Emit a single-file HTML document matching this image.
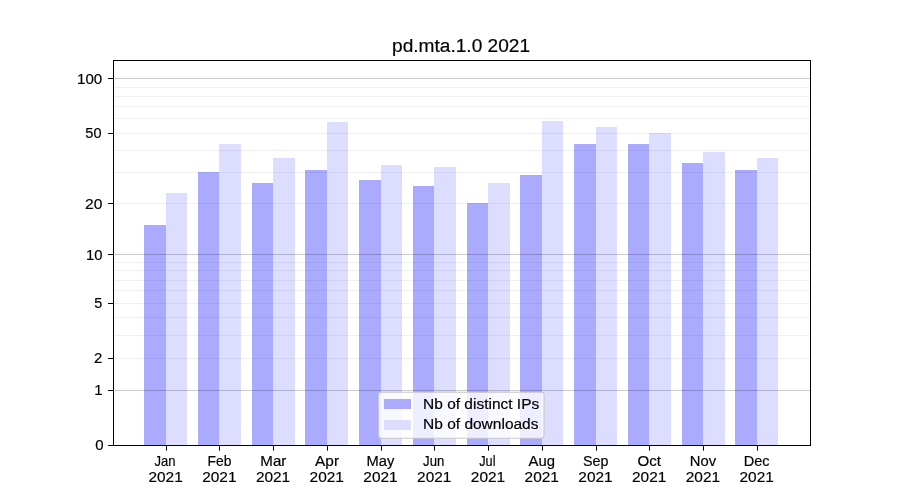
<!DOCTYPE html><html><head><meta charset="utf-8"><style>html,body{margin:0;padding:0;background:#fff;width:900px;height:500px;overflow:hidden}svg{display:block;will-change:transform}text{font-family:"Liberation Sans",sans-serif;fill:#000;stroke:#000;stroke-width:0.18px}</style></head><body>
<svg width="900" height="500" viewBox="0 0 900 500">
<rect x="0" y="0" width="900" height="500" fill="#fff"/>
<g shape-rendering="crispEdges">
<rect x="144" y="225" width="22" height="220" fill="#aaaaff"/>
<rect x="166" y="193" width="21" height="252" fill="#ddddff"/>
<rect x="198" y="172" width="21" height="273" fill="#aaaaff"/>
<rect x="219" y="144" width="22" height="301" fill="#ddddff"/>
<rect x="252" y="183" width="21" height="262" fill="#aaaaff"/>
<rect x="273" y="158" width="22" height="287" fill="#ddddff"/>
<rect x="305" y="170" width="22" height="275" fill="#aaaaff"/>
<rect x="327" y="122" width="21" height="323" fill="#ddddff"/>
<rect x="359" y="180" width="22" height="265" fill="#aaaaff"/>
<rect x="381" y="165" width="21" height="280" fill="#ddddff"/>
<rect x="413" y="186" width="21" height="259" fill="#aaaaff"/>
<rect x="434" y="167" width="22" height="278" fill="#ddddff"/>
<rect x="467" y="203" width="21" height="242" fill="#aaaaff"/>
<rect x="488" y="183" width="22" height="262" fill="#ddddff"/>
<rect x="520" y="175" width="22" height="270" fill="#aaaaff"/>
<rect x="542" y="121" width="21" height="324" fill="#ddddff"/>
<rect x="574" y="144" width="22" height="301" fill="#aaaaff"/>
<rect x="596" y="127" width="21" height="318" fill="#ddddff"/>
<rect x="628" y="144" width="21" height="301" fill="#aaaaff"/>
<rect x="649" y="133" width="22" height="312" fill="#ddddff"/>
<rect x="682" y="163" width="21" height="282" fill="#aaaaff"/>
<rect x="703" y="152" width="22" height="293" fill="#ddddff"/>
<rect x="735" y="170" width="22" height="275" fill="#aaaaff"/>
<rect x="757" y="158" width="21" height="287" fill="#ddddff"/>
</g>
<rect x="113" y="358" width="697" height="1" fill="#000" fill-opacity="0.06"/>
<rect x="113" y="335" width="697" height="1" fill="#000" fill-opacity="0.06"/>
<rect x="113" y="317" width="697" height="1" fill="#000" fill-opacity="0.06"/>
<rect x="113" y="303" width="697" height="1" fill="#000" fill-opacity="0.06"/>
<rect x="113" y="290" width="697" height="1" fill="#000" fill-opacity="0.06"/>
<rect x="113" y="280" width="697" height="1" fill="#000" fill-opacity="0.06"/>
<rect x="113" y="270" width="697" height="1" fill="#000" fill-opacity="0.06"/>
<rect x="113" y="262" width="697" height="1" fill="#000" fill-opacity="0.06"/>
<rect x="113" y="203" width="697" height="1" fill="#000" fill-opacity="0.06"/>
<rect x="113" y="172" width="697" height="1" fill="#000" fill-opacity="0.06"/>
<rect x="113" y="150" width="697" height="1" fill="#000" fill-opacity="0.06"/>
<rect x="113" y="133" width="697" height="1" fill="#000" fill-opacity="0.06"/>
<rect x="113" y="118" width="697" height="1" fill="#000" fill-opacity="0.06"/>
<rect x="113" y="106" width="697" height="1" fill="#000" fill-opacity="0.06"/>
<rect x="113" y="96" width="697" height="1" fill="#000" fill-opacity="0.06"/>
<rect x="113" y="87" width="697" height="1" fill="#000" fill-opacity="0.06"/>
<rect x="113" y="390" width="697" height="1" fill="#000" fill-opacity="0.2"/>
<rect x="113" y="254" width="697" height="1" fill="#000" fill-opacity="0.2"/>
<rect x="113" y="78" width="697" height="1" fill="#000" fill-opacity="0.2"/>
<rect x="113" y="60" width="698" height="1" fill="#000"/>
<rect x="113" y="445" width="698" height="1" fill="#000"/>
<rect x="113" y="60" width="1" height="386" fill="#000"/>
<rect x="810" y="60" width="1" height="386" fill="#000"/>
<rect x="108.1" y="445" width="5" height="1" fill="#000"/>
<text transform="translate(95.278,450.000) scale(1.0188,1)" font-size="14.723">0</text>
<rect x="108.1" y="390" width="5" height="1" fill="#000"/>
<text transform="translate(94.176,395.000) scale(1.0176,1)" font-size="14.723">1</text>
<rect x="108.1" y="358" width="5" height="1" fill="#000"/>
<text transform="translate(94.012,363.000) scale(1.0154,1)" font-size="14.723">2</text>
<rect x="108.1" y="303" width="5" height="1" fill="#000"/>
<text transform="translate(94.364,308.000) scale(0.9780,1)" font-size="14.723">5</text>
<rect x="108.1" y="254" width="5" height="1" fill="#000"/>
<text transform="translate(85.889,260.000) scale(1.0064,1)" font-size="14.723">10</text>
<rect x="108.1" y="203" width="5" height="1" fill="#000"/>
<text transform="translate(84.977,209.000) scale(1.0641,1)" font-size="14.723">20</text>
<rect x="108.1" y="133" width="5" height="1" fill="#000"/>
<text transform="translate(85.319,138.000) scale(0.9867,1)" font-size="14.723">50</text>
<rect x="108.1" y="78" width="5" height="1" fill="#000"/>
<text transform="translate(77.067,84.000) scale(1.0264,1)" font-size="14.723">100</text>
<rect x="166" y="446" width="1" height="4.6" fill="#000"/>
<text transform="translate(154.519,465.900) scale(0.8852,1)" font-size="14.723">Jan</text>
<text transform="translate(148.410,481.900) scale(1.0481,1)" font-size="14.723">2021</text>
<rect x="219" y="446" width="1" height="4.6" fill="#000"/>
<text transform="translate(207.501,465.900) scale(0.9410,1)" font-size="14.723">Feb</text>
<text transform="translate(202.147,481.900) scale(1.0481,1)" font-size="14.723">2021</text>
<rect x="273" y="446" width="1" height="4.6" fill="#000"/>
<text transform="translate(260.326,465.900) scale(1.0266,1)" font-size="14.723">Mar</text>
<text transform="translate(255.883,481.900) scale(1.0481,1)" font-size="14.723">2021</text>
<rect x="327" y="446" width="1" height="4.6" fill="#000"/>
<text transform="translate(315.110,465.900) scale(1.0452,1)" font-size="14.723">Apr</text>
<text transform="translate(309.620,481.900) scale(1.0481,1)" font-size="14.723">2021</text>
<rect x="381" y="446" width="1" height="4.6" fill="#000"/>
<text transform="translate(366.574,465.900) scale(1.0027,1)" font-size="14.723">May</text>
<text transform="translate(363.356,481.900) scale(1.0481,1)" font-size="14.723">2021</text>
<rect x="434" y="446" width="1" height="4.6" fill="#000"/>
<text transform="translate(423.053,465.900) scale(0.8975,1)" font-size="14.723">Jun</text>
<text transform="translate(417.093,481.900) scale(1.0481,1)" font-size="14.723">2021</text>
<rect x="488" y="446" width="1" height="4.6" fill="#000"/>
<text transform="translate(479.269,465.900) scale(0.8629,1)" font-size="14.723">Jul</text>
<text transform="translate(470.829,481.900) scale(1.0481,1)" font-size="14.723">2021</text>
<rect x="542" y="446" width="1" height="4.6" fill="#000"/>
<text transform="translate(528.511,465.900) scale(1.0100,1)" font-size="14.723">Aug</text>
<text transform="translate(524.566,481.900) scale(1.0481,1)" font-size="14.723">2021</text>
<rect x="596" y="446" width="1" height="4.6" fill="#000"/>
<text transform="translate(582.911,465.900) scale(0.9718,1)" font-size="14.723">Sep</text>
<text transform="translate(578.302,481.900) scale(1.0481,1)" font-size="14.723">2021</text>
<rect x="649" y="446" width="1" height="4.6" fill="#000"/>
<text transform="translate(637.516,465.900) scale(1.0257,1)" font-size="14.723">Oct</text>
<text transform="translate(632.039,481.900) scale(1.0481,1)" font-size="14.723">2021</text>
<rect x="703" y="446" width="1" height="4.6" fill="#000"/>
<text transform="translate(689.793,465.900) scale(1.0052,1)" font-size="14.723">Nov</text>
<text transform="translate(685.775,481.900) scale(1.0481,1)" font-size="14.723">2021</text>
<rect x="757" y="446" width="1" height="4.6" fill="#000"/>
<text transform="translate(743.663,465.900) scale(0.9905,1)" font-size="14.723">Dec</text>
<text transform="translate(739.512,481.900) scale(1.0481,1)" font-size="14.723">2021</text>
<text transform="translate(392.015,51.900) scale(1.0816,1)" font-size="17.670">pd.mta.1.0 2021</text>
<rect x="378.45" y="392.2" width="165.55" height="46.05" rx="2.8" ry="2.8" fill="#fff" fill-opacity="0.8" stroke="#c4c4c4" stroke-opacity="0.9" stroke-width="1.11"/>
<rect x="384" y="399" width="27" height="10" fill="#aaaaff" shape-rendering="crispEdges"/>
<rect x="384" y="420" width="27" height="10" fill="#ddddff" shape-rendering="crispEdges"/>
<text transform="translate(423.026,409.200) scale(1.0520,1)" font-size="14.723">Nb of distinct IPs</text>
<text transform="translate(423.024,429.200) scale(1.0540,1)" font-size="14.723">Nb of downloads</text>
</svg></body></html>
